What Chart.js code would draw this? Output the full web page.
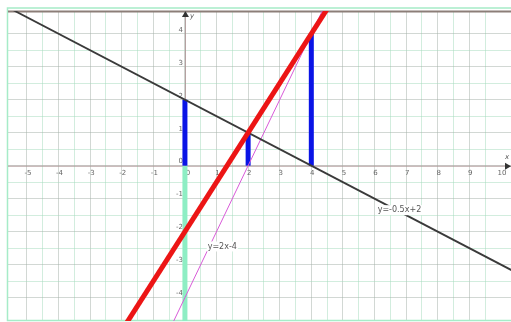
<!DOCTYPE html>
<html>
<head>
<meta charset="utf-8">
<script src="https://cdn.jsdelivr.net/npm/chart.js@4/dist/chart.umd.min.js"></script>
<style>
html, body { margin: 0; padding: 0; background: #fff; }
#wrap { width: 511px; height: 322px; }
</style>
</head>
<body>
<div id="wrap"><canvas id="chart" width="511" height="322"></canvas></div>
<script>
// кінцеві точки прямих (обрізаються областю графіка)
const blackX = [-6, 11];
const blackY = [5, -3.5];
const redX = [-2, 5];
const redY = [-5, 5.5];
const pinkX = [-1, 5];
const pinkY = [-6, 6];

// вертикальні відрізки
const blueX = [0, 2, 4];
const blueTop = [2, 1, 4];
const cyanX = [0, 0];
const cyanY = [0, -5];

// підписи осей
const xTicks = [-5, -4, -3, -2, -1, 0, 1, 2, 3, 4, 5, 6, 7, 8, 9, 10];
const yTicks = [-4, -3, -2, -1, 0, 1, 2, 3, 4];

// підписи прямих
const noteText = ['y=-0.5x+2', 'y=2x-4'];
const noteX = [6.1, 0.72];
const noteY = [-1.35, -2.45];

const X_MIN = -5.6, X_MAX = 10.32;
const Y_MIN = -4.71, Y_MAX = 4.69;

function pts(xs, ys) {
    return xs.map((x, i) => ({ x: x, y: ys[i] }));
}

function lineSet(data, color, width) {
    return {
        data: data,
        borderColor: color,
        borderWidth: width,
        pointRadius: 0,
        showLine: true,
        fill: false,
        borderCapStyle: 'butt'
    };
}

const datasets = [
    lineSet(pts(redX, redY), '#ec1515', 5),
    lineSet(pts(blackX, blackY), '#3a3a3a', 1.8),
    lineSet(pts(pinkX, pinkY), '#d85ad8', 1),
    ...blueX.map((x, i) => lineSet(pts([x, x], [0, blueTop[i]]), '#0a14e6', 5)),
    lineSet(pts(cyanX, cyanY), '#8eeec4', 5)
];

//сітка кожні 0.5
function halfStep(scale) {
    scale.ticks = scale.ticks.filter(t => Math.abs(t.value * 2 - Math.round(t.value * 2)) < 1e-6);
}

function gridColor(ctx) {
    const v = ctx.tick ? ctx.tick.value : 0;
    return Math.abs(v - Math.round(v)) < 1e-6 ? 'rgba(165,178,170,0.5)' : 'rgba(165,220,190,0.5)';
}

//осі, підписи і рамка під лініями
const axesUnder = {
    id: 'axesUnder',
    beforeDatasetsDraw(chart) {
        const ctx = chart.ctx, a = chart.chartArea;
        const sx = chart.scales.x, sy = chart.scales.y;
        const ox = sx.getPixelForValue(0), oy = sy.getPixelForValue(0);
        ctx.save();

        // рамка
        ctx.strokeStyle = '#a6ecc8';
        ctx.lineWidth = 1.5;
        ctx.beginPath();
        ctx.moveTo(513, 8);
        ctx.lineTo(7.5, 8);
        ctx.lineTo(7.5, 320.5);
        ctx.lineTo(513, 320.5);
        ctx.stroke();

        ctx.strokeStyle = '#8c7e78';
        ctx.lineWidth = 2;
        ctx.beginPath();
        ctx.moveTo(a.left, a.top + 0.5);
        ctx.lineTo(a.right, a.top + 0.5);
        ctx.stroke();

        // осі
        ctx.strokeStyle = '#b09a9a';
        ctx.lineWidth = 1;
        ctx.beginPath();
        ctx.moveTo(a.left, oy + 0.5);
        ctx.lineTo(a.right, oy + 0.5);
        ctx.moveTo(ox + 0.5, a.top);
        ctx.lineTo(ox + 0.5, a.bottom);
        ctx.stroke();

        ctx.fillStyle = '#666';
        ctx.font = '7px "DejaVu Sans"';
        ctx.textAlign = 'center';
        ctx.textBaseline = 'middle';
        xTicks.forEach(v => {
            const px = sx.getPixelForValue(v) + (v === 0 ? 3 : 1);
            ctx.fillText(String(v), px, oy + 8);
        });
        ctx.textAlign = 'right';
        yTicks.forEach(v => {
            ctx.fillText(String(v), ox - 2, sy.getPixelForValue(v) - 4);
        });
        ctx.restore();
    },
    afterDatasetsDraw(chart) {
        const ctx = chart.ctx, a = chart.chartArea;
        const sx = chart.scales.x, sy = chart.scales.y;
        const ox = sx.getPixelForValue(0), oy = sy.getPixelForValue(0);
        ctx.save();

        // стрілки
        ctx.fillStyle = '#333';
        ctx.beginPath();
        ctx.moveTo(ox + 0.5, a.top);
        ctx.lineTo(ox - 3, a.top + 6);
        ctx.lineTo(ox + 4, a.top + 6);
        ctx.closePath();
        ctx.fill();
        ctx.beginPath();
        ctx.moveTo(a.right, oy + 0.5);
        ctx.lineTo(a.right - 6, oy - 3);
        ctx.lineTo(a.right - 6, oy + 4);
        ctx.closePath();
        ctx.fill();

        ctx.fillStyle = '#555';
        ctx.font = 'italic 7px "DejaVu Sans"';
        ctx.textAlign = 'left';
        ctx.textBaseline = 'middle';
        ctx.fillText('y', ox + 5, a.top + 5);
        ctx.fillText('x', a.right - 6, oy - 8);

        // підписи прямих
        ctx.font = '8px "DejaVu Sans"';
        noteText.forEach((t, i) => {
            const px = sx.getPixelForValue(noteX[i]);
            const py = sy.getPixelForValue(noteY[i]);
            const w = ctx.measureText(t).width;
            ctx.fillStyle = '#fff';
            ctx.fillRect(px - 1, py - 5, w + 2, 10);
            ctx.fillStyle = '#555';
            ctx.fillText(t, px, py);
        });
        ctx.restore();
    }
};

new Chart(document.getElementById('chart'), {
    type: 'scatter',
    data: { datasets: datasets },
    options: {
        responsive: false,
        animation: false,
        layout: { padding: { left: 8, top: 11, right: 0, bottom: 1 } },
        scales: {
            x: {
                type: 'linear',
                min: X_MIN,
                max: X_MAX,
                afterBuildTicks: halfStep,
                ticks: { display: false, stepSize: 0.5 },
                grid: { color: gridColor, drawTicks: false, lineWidth: 1 },
                border: { display: false }
            },
            y: {
                type: 'linear',
                min: Y_MIN,
                max: Y_MAX,
                afterBuildTicks: halfStep,
                ticks: { display: false, stepSize: 0.5 },
                grid: { color: gridColor, drawTicks: false, lineWidth: 1 },
                border: { display: false }
            }
        },
        plugins: {
            legend: { display: false },
            tooltip: { enabled: false }
        }
    },
    plugins: [axesUnder]
});
</script>
</body>
</html>
